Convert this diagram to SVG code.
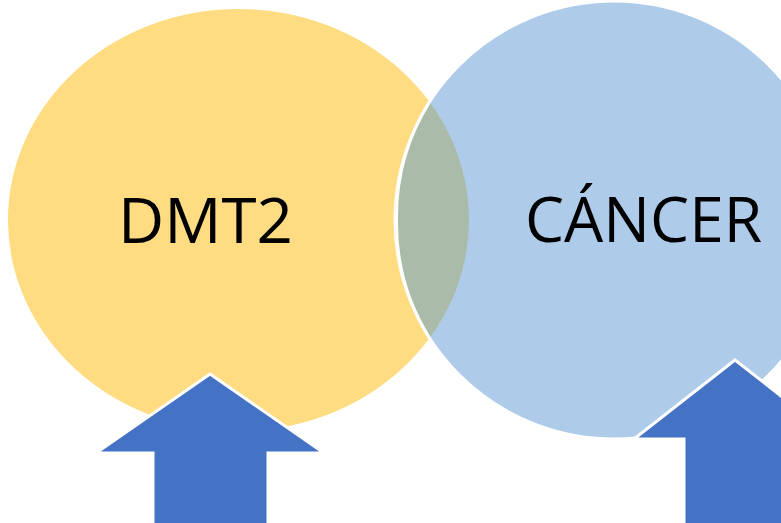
<svg xmlns="http://www.w3.org/2000/svg" width="781" height="523" viewBox="0 0 781 523">
<defs>
<style>
.lbl{font-family:"Open Sans","Liberation Sans",sans-serif;font-size:63px;fill:#000;text-anchor:middle}
.arrow{fill:#4472C4;stroke:#fff;stroke-width:3;stroke-linejoin:miter}
</style>
<clipPath id="yclip"><ellipse cx="238.5" cy="220" rx="230.5" ry="211"/></clipPath>
</defs>
<rect width="781" height="523" fill="#fff"/>
<g id="dmt2">
<ellipse cx="238.5" cy="220" rx="230.5" ry="211" fill="#FFDC82"/>
</g>
<g id="cancer">
<circle cx="614" cy="220" r="219" fill="#AECCE9" stroke="#fff" stroke-width="3"/>
<circle cx="614" cy="220" r="219" fill="#ABBBAA" clip-path="url(#yclip)"/>
<path d="M396.5 220 A217.5 217.5 0 0 1 429.5 102 M396.5 220 A217.5 217.5 0 0 0 429.5 338" fill="none" stroke="#fff" stroke-width="3"/>
</g>
<text class="lbl" x="205.5" y="243" textLength="175" lengthAdjust="spacingAndGlyphs">DMT2</text>
<text class="lbl" x="643.5" y="242" textLength="237" lengthAdjust="spacingAndGlyphs">CÁNCER</text>
<g id="connectors">
<g id="arrow-left"><polygon class="arrow" points="210,374 324,453 268,453 268,526 153,526 153,453 96,453"/></g>
<g id="arrow-right"><polygon class="arrow" points="735,360 836,439 786,439 786,526 684,526 684,439 634,439"/></g>
</g>
</svg>
